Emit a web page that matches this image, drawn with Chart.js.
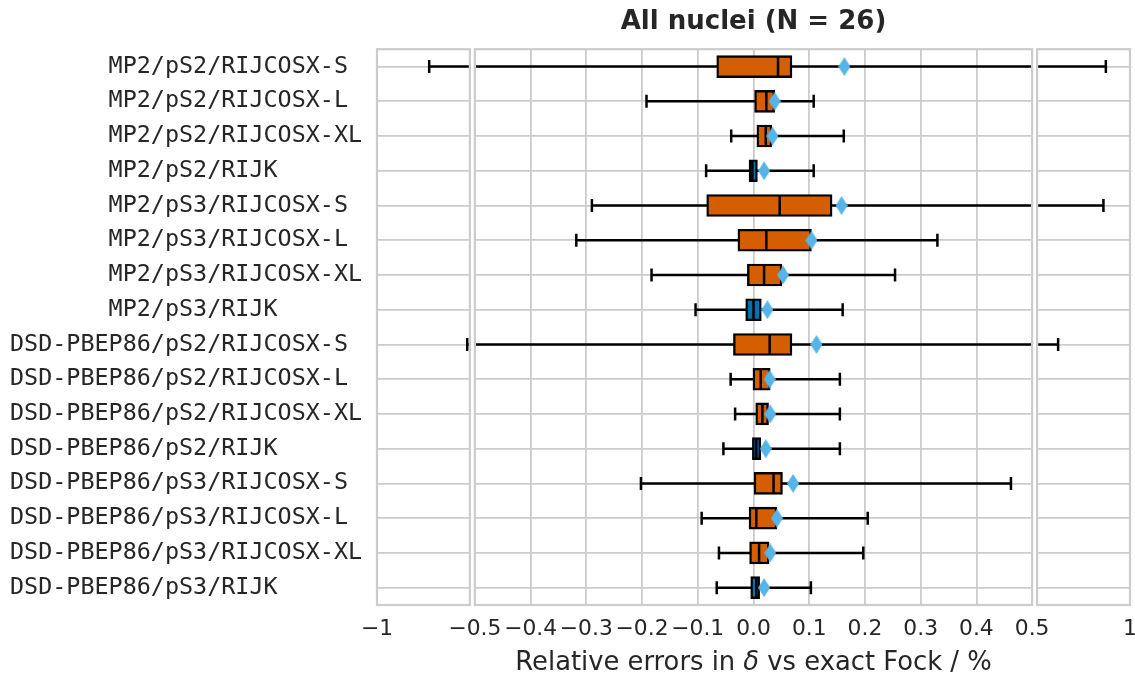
<!DOCTYPE html>
<html>
<head>
<meta charset="utf-8">
<title>All nuclei (N = 26)</title>
<script src="https://cdn.jsdelivr.net/npm/chart.js@4.4.1/dist/chart.umd.min.js"></script>
<style>
  html, body { margin: 0; padding: 0; background: #ffffff; }
</style>
</head>
<body>
<canvas id="boxChart" width="1135" height="675"></canvas>
<script>
// Box plots of relative shielding errors, one row per method
const CATEGORIES = [
  'MP2/pS2/RIJCOSX-S', 'MP2/pS2/RIJCOSX-L', 'MP2/pS2/RIJCOSX-XL', 'MP2/pS2/RIJK',
  'MP2/pS3/RIJCOSX-S', 'MP2/pS3/RIJCOSX-L', 'MP2/pS3/RIJCOSX-XL', 'MP2/pS3/RIJK',
  'DSD-PBEP86/pS2/RIJCOSX-S', 'DSD-PBEP86/pS2/RIJCOSX-L', 'DSD-PBEP86/pS2/RIJCOSX-XL', 'DSD-PBEP86/pS2/RIJK',
  'DSD-PBEP86/pS3/RIJCOSX-S', 'DSD-PBEP86/pS3/RIJCOSX-L', 'DSD-PBEP86/pS3/RIJCOSX-XL', 'DSD-PBEP86/pS3/RIJK'
];
const WHISKER_LO = [-0.719, -0.192, -0.040, -0.085, -0.290, -0.318, -0.183, -0.104,
                    -0.514, -0.041, -0.033, -0.054, -0.202, -0.093, -0.062, -0.066];
const Q1         = [-0.066, 0.002, 0.006, -0.008, -0.084, -0.028, -0.011, -0.014,
                    -0.036, -0.001, 0.004, -0.002, 0.001, -0.008, -0.007, -0.005];
const MEDIAN     = [0.044, 0.023, 0.022, -0.002, 0.047, 0.023, 0.019, 0.000,
                    0.029, 0.013, 0.016, 0.005, 0.036, 0.005, 0.010, 0.005];
const Q3         = [0.069, 0.038, 0.033, 0.007, 0.141, 0.104, 0.051, 0.014,
                    0.069, 0.030, 0.027, 0.013, 0.052, 0.042, 0.028, 0.011];
const WHISKER_HI = [0.870, 0.108, 0.162, 0.108, 0.857, 0.330, 0.254, 0.160,
                    0.613, 0.155, 0.155, 0.155, 0.462, 0.205, 0.197, 0.103];
const MEAN       = [0.163, 0.038, 0.034, 0.019, 0.158, 0.104, 0.053, 0.025,
                    0.113, 0.029, 0.030, 0.022, 0.071, 0.042, 0.030, 0.019];

const TICK_VALUES = [-1, -0.5, -0.4, -0.3, -0.2, -0.1, 0, 0.1, 0.2, 0.3, 0.4, 0.5, 1];
const TICK_LABELS = ['\u22121', '\u22120.5', '\u22120.4', '\u22120.3', '\u22120.2', '\u22120.1',
                     '0.0', '0.1', '0.2', '0.3', '0.4', '0.5', '1'];

const ORANGE = '#d55e00';
const BLUE = '#0072b2';
const SKY = '#56b4e9';
const INK = '#262626';
const GRID = '#cccccc';
const GAP = 5; // hueco entre los tres paneles (px)

Chart.defaults.color = INK;
Chart.defaults.font.family = '"DejaVu Sans", sans-serif';

// Etiquetas del eje y: el método se rellena a 10 caracteres para alinear las barras "/"
const rowLabels = CATEGORIES.map(c => {
  const parts = c.split('/');
  parts[0] = parts[0].padStart(10, ' ');
  return parts.join('/');
});

// Eje x partido: [-1,-0.5] | [-0.5,0.5] | [0.5,1] con anchos 1:6:1
class SplitScale extends Chart.LinearScale {
  panelSizes() {
    const side = (this.width - 2 * GAP) / 8;
    return { side: side, mid: side * 6 };
  }
  getPixelForValue(value) {
    const { side, mid } = this.panelSizes();
    if (value < -0.5) return this.left + (value + 1) / 0.5 * side;
    if (value > 0.5) return this.right - (1 - value) / 0.5 * side;
    return this.left + side + GAP + (value + 0.5) * mid;
  }
  getValueForPixel(pixel) {
    const { side, mid } = this.panelSizes();
    if (pixel < this.left + side) return -1 + (pixel - this.left) / side * 0.5;
    if (pixel > this.right - side) return 1 - (this.right - pixel) / side * 0.5;
    return -0.5 + (pixel - this.left - side - GAP) / mid;
  }
  buildTicks() {
    return TICK_VALUES.map(v => ({ value: v }));
  }
}
SplitScale.id = 'split';
SplitScale.defaults = Chart.LinearScale.defaults;
Chart.register(SplitScale);

// Rombo estrecho para la media (como el marcador 'd')
function diamond(w, h, color) {
  const c = document.createElement('canvas');
  c.width = w;
  c.height = h;
  const g = c.getContext('2d');
  g.fillStyle = color;
  g.beginPath();
  g.moveTo(w / 2, 0);
  g.lineTo(w, h / 2);
  g.lineTo(w / 2, h);
  g.lineTo(0, h / 2);
  g.closePath();
  g.fill();
  return c;
}

// Marcos de los paneles y huecos en blanco entre ellos
const panelFrames = {
  id: 'panelFrames',
  afterDatasetsDraw(chart) {
    const { ctx } = chart;
    const { left, right, top, bottom } = chart.chartArea;
    const side = (right - left - 2 * GAP) / 8;
    ctx.save();
    ctx.fillStyle = '#ffffff';
    ctx.fillRect(left + side, top - 2, GAP, bottom - top + 4);
    ctx.fillRect(right - side - GAP, top - 2, GAP, bottom - top + 4);
    ctx.strokeStyle = GRID;
    ctx.lineWidth = 2.2;
    [[left, left + side], [left + side + GAP, right - side - GAP], [right - side, right]]
      .forEach(([a, b]) => ctx.strokeRect(a, top, b - a, bottom - top));
    ctx.restore();
  }
};

// Título del eje x con la delta en cursiva
const xAxisTitle = {
  id: 'xAxisTitle',
  afterDraw(chart) {
    const { ctx, chartArea } = chart;
    const parts = [
      ['Relative errors in ', 'normal'],
      ['\u03b4', 'italic'],
      [' vs exact Fock / %', 'normal']
    ];
    const fontFor = style => style + ' 25.8px "DejaVu Sans"';
    ctx.save();
    ctx.fillStyle = INK;
    ctx.textBaseline = 'middle';
    ctx.textAlign = 'left';
    let total = 0;
    parts.forEach(([t, s]) => { ctx.font = fontFor(s); total += ctx.measureText(t).width; });
    let x = (chartArea.left + chartArea.right) / 2 - total / 2;
    parts.forEach(([t, s]) => {
      ctx.font = fontFor(s);
      ctx.fillText(t, x, 663);
      x += ctx.measureText(t).width;
    });
    ctx.restore();
  }
};

const whiskerData = CATEGORIES.flatMap((c, i) => [
  { x: WHISKER_LO[i], y: c }, { x: WHISKER_HI[i], y: c }, { x: null, y: null }
]);
const capData = CATEGORIES.flatMap((c, i) => [{ x: WHISKER_LO[i], y: c }, { x: WHISKER_HI[i], y: c }]);
const medianData = CATEGORIES.map((c, i) => ({ x: MEDIAN[i], y: c }));
const meanData = CATEGORIES.map((c, i) => ({ x: MEAN[i], y: c }));
const boxColors = CATEGORIES.map(c => c.endsWith('RIJK') ? BLUE : ORANGE);

new Chart(document.getElementById('boxChart'), {
  type: 'bar',
  data: {
    labels: CATEGORIES,
    datasets: [
      {
        type: 'scatter',
        label: 'whiskers',
        data: whiskerData,
        showLine: true,
        spanGaps: false,
        borderColor: '#000000',
        borderWidth: 2.5,
        pointRadius: 0,
        order: 4
      },
      {
        type: 'scatter',
        label: 'caps',
        data: capData,
        pointStyle: 'line',
        rotation: 90,
        pointRadius: 6.5,
        borderColor: '#000000',
        pointBorderWidth: 2.5,
        order: 3
      },
      {
        label: 'IQR',
        data: Q1.map((q, i) => [q, Q3[i]]),
        backgroundColor: boxColors,
        borderColor: '#000000',
        borderWidth: 2.4,
        borderSkipped: false,
        barThickness: 22,
        order: 2
      },
      {
        type: 'scatter',
        label: 'median',
        data: medianData,
        pointStyle: 'line',
        rotation: 90,
        pointRadius: 10.5,
        borderColor: '#000000',
        pointBorderWidth: 2.5,
        order: 1
      },
      {
        type: 'scatter',
        label: 'mean',
        data: meanData,
        pointStyle: diamond(12, 19, SKY),
        pointRadius: 9,
        order: 0
      }
    ]
  },
  options: {
    indexAxis: 'y',
    responsive: false,
    animation: false,
    events: [],
    layout: { autoPadding: false, padding: { left: 10, right: 5, top: 0, bottom: 0 } },
    plugins: {
      legend: { display: false },
      tooltip: { enabled: false },
      title: {
        display: true,
        fullSize: false,
        text: 'All nuclei (N = 26)',
        color: INK,
        font: { size: 26, weight: 'bold' },
        padding: { top: 7, bottom: 11 }
      }
    },
    scales: {
      x: {
        type: 'split',
        min: -1,
        max: 1,
        border: { display: false },
        grid: {
          drawTicks: false,
          lineWidth: 1.8,
          color: ctx => (ctx.tick && Math.abs(ctx.tick.value) < 0.49) ? GRID : 'rgba(0,0,0,0)'
        },
        ticks: {
          autoSkip: false,
          maxRotation: 0,
          padding: 11,
          color: INK,
          font: { size: 21.8 },
          callback: (value, i) => TICK_LABELS[i]
        },
        afterFit: scale => {
          scale.height = 70;
          scale.paddingLeft = 0;
          scale.paddingRight = 0;
        }
      },
      y: {
        type: 'category',
        offset: true,
        border: { display: false },
        grid: { offset: false, drawTicks: false, color: GRID, lineWidth: 1.8 },
        ticks: {
          crossAlign: 'far',
          color: INK,
          font: { family: '"DejaVu Sans Mono", monospace', size: 23.4 },
          callback: (value, i) => rowLabels[i]
        },
        afterFit: scale => { scale.width = 367; }
      }
    }
  },
  plugins: [panelFrames, xAxisTitle]
});
</script>
</body>
</html>
